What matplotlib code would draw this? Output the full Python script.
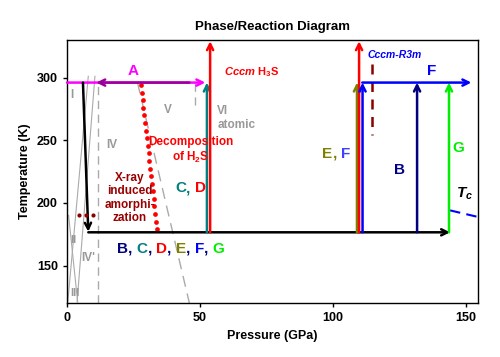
import matplotlib
matplotlib.use("Agg")
import matplotlib.pyplot as plt
import numpy as np
from matplotlib import offsetbox

plt.rcParams['font.family'] = ['Liberation Sans', 'DejaVu Sans']
plt.rcParams['font.weight'] = 'bold'
plt.rcParams['mathtext.fontset'] = 'custom'
plt.rcParams['mathtext.rm'] = 'Liberation Sans:bold'
plt.rcParams['mathtext.it'] = 'Liberation Sans:bold:italic'
plt.rcParams['mathtext.bf'] = 'Liberation Sans:bold'

# ---- data ----
x_ticks = [0, 50, 100, 150]
y_ticks = [150, 200, 250, 300]
x_lim = (0, 154.5)
y_lim = (120, 330)

# horizontal paths (x0, x1, y)
ambient_T = 296
low_T = 176.5
path_A_right = (0, 52, ambient_T)
path_A_left = (46, 11, ambient_T)
path_low = (8, 144, low_T)
path_F = (111, 152, ambient_T)

# black cooling arrow
cool_x = [6, 8]
cool_y = [296, 177]

# vertical compression arrows: x, y_start, y_end, colour
vert_x = [52.6, 53.8, 109.0, 109.8, 111.1, 131.6, 143.6]
vert_y0 = [176.5, 176.5, 176.5, 176.5, 176.5, 176.5, 176.5]
vert_y1 = [296, 329, 296, 329, 296, 296, 296]
vert_colors = ['#008080', '#ff0000', '#808000', '#ff0000', '#0000ff', '#000080', '#00ee00']

# decomposition boundary (red dotted)
decomp_x = [27.8, 33.8]
decomp_y = [294, 179]
n_decomp_dots = 20

# gray dashed phase boundaries
dash1_x = [11.7, 11.7]; dash1_y = [120, 296]
dash2_x = [48, 48];     dash2_y = [296, 278]
dash3_x = [26.5, 46];   dash3_y = [296, 120]

# gray solid phase boundaries
solid1_x = [0.3, 8.0];  solid1_y = [121, 301]
solid2_x = [3.8, 10.5]; solid2_y = [121, 301]
solid3_x = [4.0, 0.6];  solid3_y = [121, 190]

# dark red dashed line (Cccm-R3m)
cr_x = [114.7, 114.7]; cr_y = [311, 254]

# Tc line
tc_x = [144, 154]; tc_y = [194, 189]

# amorphization dots
dots_x = [4.4, 7.0, 9.9]
dots_y = [190, 190, 190]

fig = plt.figure(figsize=(5, 3.57), dpi=100)
ax = fig.add_axes([0.134, 0.151, 0.822, 0.737])
ax.set_xlim(*x_lim)
ax.set_ylim(*y_lim)
ax.set_xticks(x_ticks)
ax.set_yticks(y_ticks)
ax.tick_params(direction='out', length=3, width=1, labelsize=9)
for lab in ax.get_xticklabels() + ax.get_yticklabels():
    lab.set_fontweight('bold')
for s in ax.spines.values():
    s.set_linewidth(1.0)
ax.set_xlabel('Pressure (GPa)', fontsize=9, fontweight='bold')
ax.set_ylabel('Temperature (K)', fontsize=9, fontweight='bold')
ax.set_title('Phase/Reaction Diagram', fontsize=9.5, fontweight='bold', pad=7)

gray = '#aaaaaa'
ax.plot(solid1_x, solid1_y, color=gray, lw=0.8)
ax.plot(solid2_x, solid2_y, color=gray, lw=0.8)
ax.plot(solid3_x, solid3_y, color=gray, lw=0.8)
ax.plot(dash1_x, dash1_y, color=gray, lw=1.0, ls=(0, (6, 4)))
ax.plot(dash2_x, dash2_y, color=gray, lw=1.0, ls=(0, (6, 4)))
ax.plot(dash3_x, dash3_y, color=gray, lw=1.0, ls=(0, (8, 5)))

t = np.linspace(0, 1, n_decomp_dots)
ax.plot(decomp_x[0] + t * (decomp_x[1] - decomp_x[0]),
        decomp_y[0] + t * (decomp_y[1] - decomp_y[0]),
        ls='none', marker='o', ms=3.4, mew=0, color='#ff0000', zorder=3)

ax.plot(cr_x, cr_y, color='#8b0000', lw=1.8, ls=(0, (4, 3)))
ax.plot(tc_x, tc_y, color='#0000ff', lw=1.5, ls=(0, (5, 3)))


def arrow(x0, y0, x1, y1, color, lw=1.8):
    ax.annotate('', xy=(x1, y1), xytext=(x0, y0),
                arrowprops=dict(arrowstyle='->', color=color, lw=lw,
                                mutation_scale=11, shrinkA=0, shrinkB=0),
                annotation_clip=False)


arrow(path_A_right[0], path_A_right[2], path_A_right[1], path_A_right[2], '#ff00ff')
arrow(path_A_left[0], path_A_left[2], path_A_left[1], path_A_left[2], '#990099')
arrow(cool_x[0], cool_y[0], cool_x[1], cool_y[1], 'black')
arrow(path_low[0], path_low[2], path_low[1], path_low[2], 'black')
for x, y0, y1, c in zip(vert_x, vert_y0, vert_y1, vert_colors):
    arrow(x, y0, x, y1, c)
arrow(path_F[0], path_F[2], path_F[1], path_F[2], '#0000ff')

ax.plot(dots_x, dots_y, ls='none', marker='o', ms=3.0, mew=0, color='#8b0000', zorder=5)

# roman numerals
rc = '#999999'
ax.text(1.9, 286, 'I', color=rc, fontsize=8.5, ha='center', va='center')
ax.text(17, 246, 'IV', color=rc, fontsize=8.5, ha='center', va='center')
ax.text(38, 274, 'V', color=rc, fontsize=8.5, ha='center', va='center')
ax.text(2.3, 170, 'II', color=rc, fontsize=8, ha='center', va='center')
ax.text(8, 156, "IV'", color=rc, fontsize=8.5, ha='center', va='center')
ax.text(2.8, 128, 'III', color=rc, fontsize=8, ha='center', va='center')
ax.text(56.5, 268, 'VI\natomic', color=rc, fontsize=8.5, ha='left', va='center',
        linespacing=1.2)

ax.text(25, 305, 'A', color='#ff00ff', fontsize=11, ha='center', va='center')
ax.text(69.5, 304, r'$Cccm$ H$_3$S', color='#ff0000', fontsize=8,
        ha='center', va='center')
ax.text(46.5, 242, 'Decomposition\nof H$_2$S', color='#ff0000', fontsize=8.5,
        ha='center', va='center', linespacing=1.2)
ax.text(23.7, 204, 'X-ray\ninduced\namorphi-\nzation', color='#990000', fontsize=8.5,
        ha='center', va='center', linespacing=1.15)
ax.text(123, 318, 'Cccm-R3m', color='#0000ff', fontsize=7.5, style='italic',
        ha='center', va='center')
ax.text(137, 305, 'F', color='#0000ff', fontsize=11, ha='center', va='center')
ax.text(125, 226, 'B', color='#000080', fontsize=11, ha='center', va='center')
ax.text(147, 244, 'G', color='#00ee00', fontsize=11, ha='center', va='center')
ax.text(149.5, 207, '$T_c$', color='black', fontsize=11, ha='center', va='center')


def multicolor(x, y, parts, fs=11):
    areas = [offsetbox.TextArea(s, textprops=dict(color=c, fontsize=fs, fontweight='bold'))
             for s, c in parts]
    box = offsetbox.HPacker(children=areas, align='baseline', pad=0, sep=0)
    ab = offsetbox.AnchoredOffsetbox(loc='center left', child=box, pad=0, frameon=False,
                                     bbox_to_anchor=(x, y), bbox_transform=ax.transData,
                                     borderpad=0)
    ax.add_artist(ab)


multicolor(18.8, 163.5, [('B', '#000080'), (', ', '#000080'), ('C', '#008080'), (', ', '#000080'),
                         ('D', '#ff0000'), (', ', '#000080'), ('E', '#808000'), (', ', '#000080'),
                         ('F', '#0000ff'), (', ', '#000080'), ('G', '#00ee00')])
multicolor(40.6, 211.5, [('C', '#008080'), (', ', '#008080'), ('D', '#ff0000')])
multicolor(96, 239, [('E', '#808000'), (', ', '#808000'), ('F', '#4040ff')])

fig.savefig('out.png', dpi=100)
